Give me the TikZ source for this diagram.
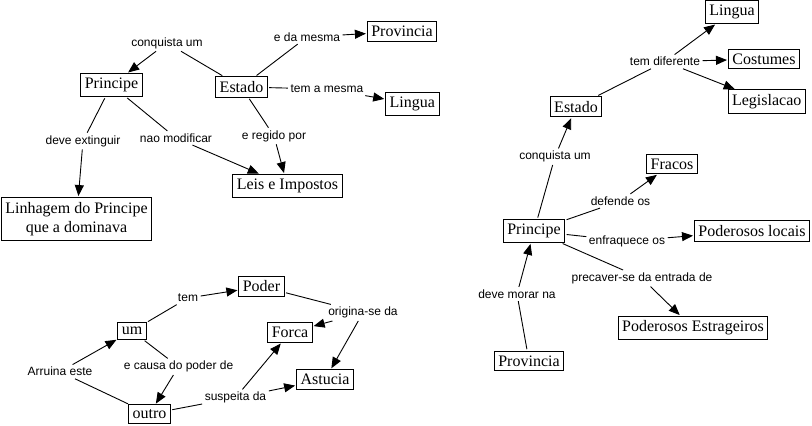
\documentclass[tikz,border=0pt]{standalone}
\usepackage{fontspec}
\setmainfont{Liberation Serif}
\newfontfamily\lsans{Liberation Sans}
\usetikzlibrary{arrows.meta}
\newcommand{\cfont}{\rmfamily\fontsize{16}{19.5}\selectfont}
\newcommand{\lfont}{\lsans\fontsize{12}{14}\selectfont}
\tikzset{
  concept/.style={draw, line width=0.9pt, font=\cfont, inner xsep=4pt, inner ysep=4.5pt},
  lbl/.style={font=\lfont, inner sep=2.5pt},
  link/.style={line width=0.9pt, shorten <=1.5pt},
  arr/.style={line width=0.9pt, -{Triangle[length=11pt,width=9pt]}, shorten >=1pt},
}
\begin{document}
\begin{tikzpicture}[x=1pt,y=-1pt]
\useasboundingbox[fill=white] (0,0) rectangle (812,426);
% ---------- top-left cluster ----------
\node[concept] (P1) at (111.5,85) {Principe};
\node[concept] (E1) at (241.5,87) {Estado};
\node[concept] (Pv1) at (402,31.5) {Provincia};
\node[concept] (L1) at (412.3,103.8) {Lingua};
\node[concept] (LI) at (287.5,186) {Leis e Impostos};
\node[concept, align=center] (LP) at (76.5,219) {Linhagem do Principe\\que a dominava};
\node[lbl] (a1) at (167,43) {conquista um};
\node[lbl] (a2) at (307,37) {e da mesma};
\node[lbl] (a3) at (327,89) {tem a mesma};
\node[lbl] (a4) at (83,141) {deve extinguir};
\node[lbl] (a5) at (176,138) {nao modificar};
\node[lbl] (a6) at (274,136) {e regido por};
\draw[link] (E1) -- (a1); \draw[arr] (a1) -- (P1);
\draw[link] (E1) -- (a2); \draw[arr] (a2) -- (Pv1);
\draw[link] (E1) -- (a3); \draw[arr] (a3) -- (L1);
\draw[link] (P1) -- (a4); \draw[arr] (a4) -- (LP);
\draw[link] (P1) -- (a5); \draw[arr] (a5) -- (LI);
\draw[link] (E1) -- (a6); \draw[arr] (a6) -- (LI);
% ---------- bottom-left cluster ----------
\node[concept] (Po) at (261.5,286.5) {Poder};
\node[concept] (um) at (132,331) {um};
\node[concept] (Fo) at (290,332.5) {Forca};
\node[concept] (As) at (325,379.5) {Astucia};
\node[concept] (ou) at (149.5,414) {outro};
\node[lbl] (b1) at (188,298) {tem};
\node[lbl] (b2) at (363,312.7) {origina-se da};
\node[lbl] (b3) at (60,371.7) {Arruina este};
\node[lbl] (b4) at (178.5,366.7) {e causa do poder de};
\node[lbl] (b5) at (235.5,397.7) {suspeita da};
\draw[link] (um) -- (b1); \draw[arr] (b1) -- (Po);
\draw[link] (Po) -- (b2); \draw[arr] (b2) -- (Fo); \draw[arr] (b2) -- (As);
\draw[link] (ou) -- (b3); \draw[arr] (b3) -- (um);
\draw[link] (um) -- (b4); \draw[arr] (b4) -- (ou);
\draw[link] (ou) -- (b5); \draw[arr] (b5) -- (Fo); \draw[arr] (b5) -- (As);
% ---------- right cluster ----------
\node[concept] (L2) at (732,12) {Lingua};
\node[concept] (Cu) at (764,59) {Costumes};
\node[concept] (Lg) at (766.7,101.7) {Legislacao};
\node[concept] (E2) at (576,106.7) {Estado};
\node[concept] (Fr) at (672,164) {Fracos};
\node[concept] (P2) at (534,231) {Principe};
\node[concept] (PL) at (752,231) {Poderosos locais};
\node[concept] (PE) at (693,328) {Poderosos Estrageiros};
\node[concept] (Pv2) at (529,361) {Provincia};
\node[lbl] (c1) at (665,61.7) {tem diferente};
\node[lbl] (c2) at (555,156.7) {conquista um};
\node[lbl] (c3) at (620.5,201) {defende os};
\node[lbl] (c4) at (627,241) {enfraquece os};
\node[lbl] (c5) at (642,278.3) {precaver-se da entrada de};
\node[lbl] (c6) at (517,294) {deve morar na};
\draw[link] (E2) -- (c1); \draw[arr] (c1) -- (L2); \draw[arr] (c1) -- (Cu); \draw[arr] (c1) -- (Lg);
\draw[link] (P2) -- (c2); \draw[arr] (c2) -- (E2);
\draw[link] (P2) -- (c3); \draw[arr] (c3) -- (Fr);
\draw[link] (P2) -- (c4); \draw[arr] (c4) -- (PL);
\draw[link] (P2) -- (c5); \draw[arr] (c5) -- (PE);
\draw[link] (Pv2) -- (c6); \draw[arr] (c6) -- (P2);
\end{tikzpicture}
\end{document}
